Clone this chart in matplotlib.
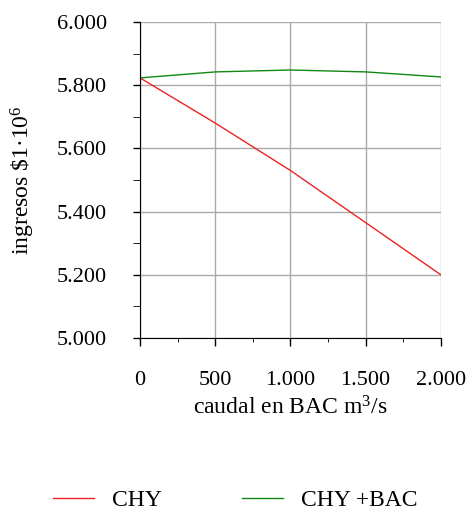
import numpy as np
import matplotlib
matplotlib.use("Agg")
import matplotlib.pyplot as plt
from matplotlib.ticker import MultipleLocator

plt.rcParams['font.family'] = ['Liberation Serif', 'DejaVu Serif']
plt.rcParams['mathtext.fontset'] = 'custom'
plt.rcParams['mathtext.rm'] = 'Liberation Serif'
plt.rcParams['mathtext.it'] = 'Liberation Serif'

# data
caudal = [0, 500, 1000, 1500, 2000]
chy = [5823, 5680, 5530, 5365, 5200]
chy_bac = [5823, 5842, 5848, 5842, 5826]

x_ticks = [0, 500, 1000, 1500, 2000]
x_labels = ["0", "500", "1.000", "1.500", "2.000"]
y_ticks = [5000, 5200, 5400, 5600, 5800, 6000]
y_labels = ["5.000", "5.200", "5.400", "5.600", "5.800", "6.000"]

fig = plt.figure(figsize=(4.7, 5.11), dpi=100)
ax = fig.add_axes([0.298, 0.3386, 0.64, 0.6184])

ax.plot(caudal, chy, color="#ee2222", lw=1.0, label="CHY")
ax.plot(caudal, chy_bac, color="#118811", lw=1.0, label="CHY +BAC")

ax.set_xlim(0, 2000)
ax.set_ylim(5000, 6000)
ax.set_xticks(x_ticks)
ax.set_xticklabels(x_labels)
ax.set_yticks(y_ticks)
ax.set_yticklabels(y_labels)
ax.xaxis.set_minor_locator(MultipleLocator(250))
ax.yaxis.set_minor_locator(MultipleLocator(100))

ax.grid(True, which="major", color="#aaaaaa", lw=1.0)
ax.set_axisbelow(True)

for s in ["top", "right"]:
    ax.spines[s].set_visible(False)
ax.spines["left"].set_color("black")
ax.spines["bottom"].set_color("black")

ax.tick_params(axis="both", which="major", labelsize=16, direction="out", width=1)
ax.tick_params(axis="y", which="both", length=5)
ax.tick_params(axis="x", which="major", length=5.5)
ax.tick_params(axis="x", which="minor", length=3)
ax.tick_params(axis="y", which="major", pad=19)
ax.tick_params(axis="x", which="major", pad=18)

ax.set_xlabel("caudal en BAC m$^3$/s", fontsize=17, labelpad=5)
ax.set_ylabel("ingresos \\$1·10$^6$", fontsize=17, labelpad=14)

fig.legend(loc="lower center", bbox_to_anchor=(0.5, -0.042), ncol=2, frameon=False,
           fontsize=17, handlelength=1.75, columnspacing=3.4, handletextpad=0.75)

fig.savefig("out.png", dpi=100)
